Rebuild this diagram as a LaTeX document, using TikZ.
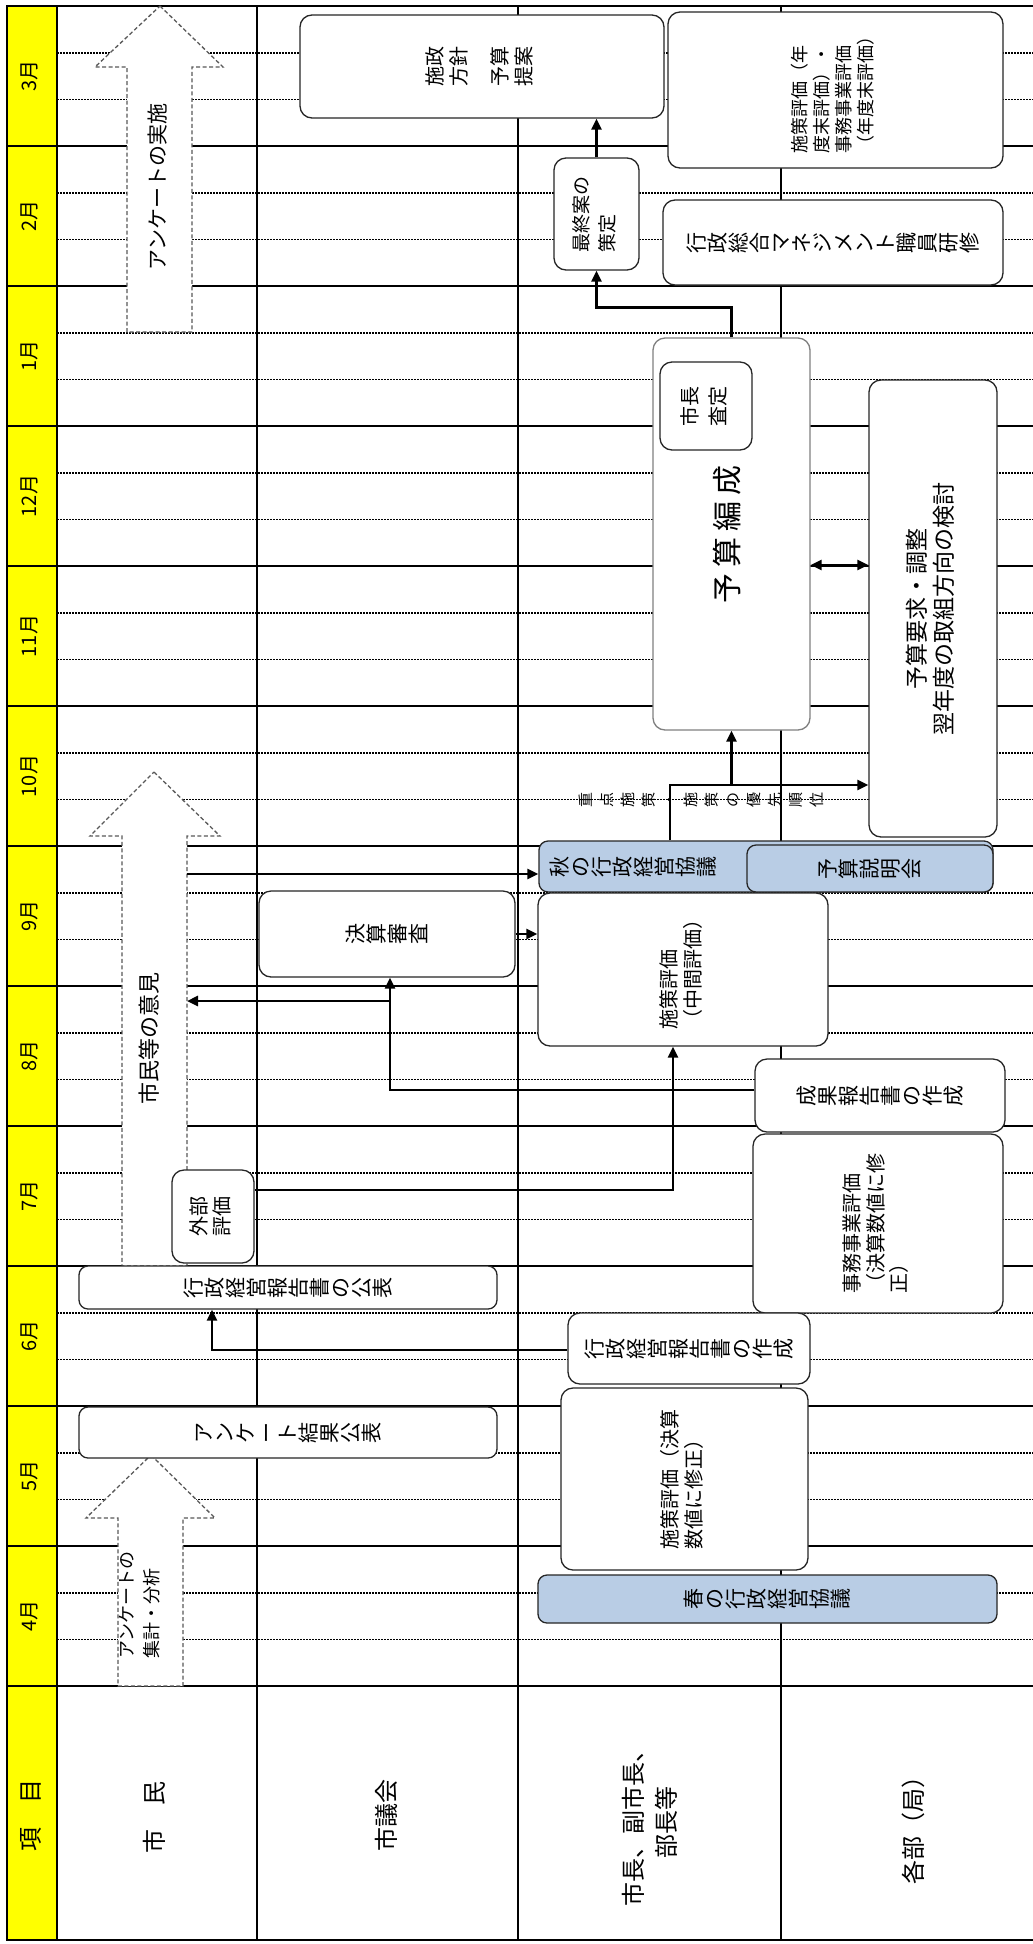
\documentclass[tikz,border=0pt]{standalone}
\usepackage{fontspec}
\setmainfont{Noto Sans CJK JP}
\usepackage{graphicx}
\usetikzlibrary{arrows.meta,positioning}

\definecolor{kiiro}{RGB}{255,255,0}
\definecolor{aoiro}{RGB}{185,205,229}

\newcommand{\fsz}[2]{\fontsize{#1}{#2}\selectfont}
\newcommand{\yoko}[2][c]{\rotatebox{90}{\begin{tabular}{@{}#1@{}}#2\end{tabular}}}
\newlength{\tatesep}
\newcommand{\tate}[1]{\tateloop#1\relax}
\def\tateloop#1{\ifx\relax#1\else\rotatebox{90}{\makebox[1em]{#1}\rule[-0.12em]{0pt}{1em}}\kern\tatesep\expandafter\tateloop\fi}

\begin{document}
\begin{tikzpicture}[x=1pt,y=-1pt,
  rule/.style={line width=1.6pt,black},
  dots/.style={line width=1.6pt,black,dash pattern=on 1.6pt off 1.4pt},
  box/.style={draw=black!85,line width=1.3pt,fill=white,rounded corners=12pt},
  bluebox/.style={box,fill=aoiro,rounded corners=9pt},
  qarrow/.style={draw=black!65,line width=1.3pt,dash pattern=on 4pt off 2.5pt,fill=white},
  flow/.style={line width=2.6pt,-{Triangle[length=11pt,width=10pt]}},
  both/.style={line width=2.6pt,{Triangle[length=11pt,width=10pt]}-{Triangle[length=11pt,width=10pt]}},
  month/.style={font=\fsz{20}{22}},
  head/.style={font=\fsz{24}{33}}]
\tikzstyle{every node}+=[inner sep=0pt,font=\fsz{21}{24}]
\useasboundingbox (0,0) rectangle (1033,1944);
\fill[white] (0,0) rectangle (1033,1944);
\fill[kiiro] (7,6) rectangle (57,1940);
\foreach \k in {0,...,11} {
  \draw[dots] (57,{52.7+140*\k}) -- (1033,{52.7+140*\k});
  \draw[dots] (57,{99.3+140*\k}) -- (1033,{99.3+140*\k});
}
\foreach \k in {1,...,12}
  \draw[rule] (7,{6+140*\k}) -- (1033,{6+140*\k});
\foreach \x in {57,257,518,781}
  \draw[rule] (\x,6) -- (\x,1940);
\draw[rule] (1033,6) -- (7,6) -- (7,1940) -- (1033,1940);

\foreach \m [count=\k from 0] in {3,2,1,12,11,10,9,8,7,6,5,4}
  \node[month] (m\m) at (32,{76+140*\k}) {\yoko{\m 月}};
\node[head] (koumoku) at (33,1815) {\yoko{項　目}};
\node[head] (shimin) at (157,1817) {\yoko{市　民}};
\node[head] (gikai) at (389,1815) {\yoko{市議会}};
\node[head] (shichou) at (652,1822) {\yoko{市長、副市長、\\部長等}};
\node[head] (kakubu) at (916,1824) {\yoko{各部（局）}};

\draw[qarrow] (160,6) -- (223,67) -- (192,67) -- (192,332) -- (127,332) -- (127,67) -- (95,67) -- cycle;
\draw[qarrow] (154,772) -- (220,836) -- (187,836) -- (187,1266) -- (122,1266) -- (122,836) -- (90,836) -- cycle;
\draw[qarrow] (151,1455) -- (215,1518) -- (183,1518) -- (183,1686) -- (118,1686) -- (118,1518) -- (86,1518) -- cycle;
\node (jisshi) at (160,187) {\yoko{アンケートの実施}};
\node[font=\fsz{22}{24}] (iken) at (152,1038) {\yoko{市民等の意見}};
\node[font=\fsz{18}{25}] (shukei) at (141,1605) {\yoko[l]{アンケートの\\集計・分析}};
\coordinate (iken1) at (187,874);
\coordinate (iken2) at (187,1001);

\node[box,minimum width=364pt,minimum height=103pt,font=\fsz{20}{24}] (seisaku) at (482,66.5) {\yoko{施政\\方針\\[17pt]予算\\提案}};
\node[box,minimum width=335pt,minimum height=156pt,font=\fsz{18}{22}] (nendo) at (835.5,90) {\yoko[l]{施策評価（年\\度末評価）・\\事務事業評価\\（年度末評価）}};
\node[box,minimum width=85pt,minimum height=112pt,font=\fsz{19}{26}] (fin) at (596.5,214) {\yoko[l]{最終案の\\策定}};
\node[box,minimum width=340pt,minimum height=85pt] (kensyu) at (833,242.5) {\tate{行政総合マネジメント職員研修}};
\node[box,draw=black!50,minimum width=157pt,minimum height=392pt,font=\fsz{30}{36}\addfontfeature{LetterSpace=20}] (yosan) at (731.5,534) {\yoko{予算編成}};
\node[box,minimum width=92pt,minimum height=88pt,font=\fsz{20}{28}] (chotei) at (706,406) {\yoko{市長\\査定}};
\node[box,minimum width=128pt,minimum height=457pt,font=\fsz{23}{24}] (youkyu) at (933,608.5) {\yoko{予算要求・調整\\翌年度の取組方向の検討}};
\node[bluebox,minimum width=454pt,minimum height=51pt] (aki) at (766,866.5) {\tate{秋の行政経営協議}\makebox[266pt]{}};
\node[bluebox,minimum width=246pt,minimum height=47pt] (setsumei) at (870,868.5) {\tate{予算説明会}};
\node[box,minimum width=256pt,minimum height=86pt] (kessan) at (387,934) {\tate{決算審査}};
\node[box,minimum width=290pt,minimum height=153pt,font=\fsz{20}{22}] (chukan) at (683,969.5) {\yoko[l]{施策評価\\（中間評価）}};
\node[box,minimum width=82pt,minimum height=93pt,font=\fsz{20}{23}] (gaibu) at (213,1216.5) {\yoko{外部\\評価}};
\node[box,minimum width=250pt,minimum height=73pt] (seika) at (880,1095.5) {\tate{成果報告書の作成}};
\node[box,minimum width=250pt,minimum height=179pt,font=\fsz{20}{22}] (jimu) at (878,1223.5) {\yoko[l]{事務事業評価\\（決算数値に修\\正）}};
\node[box,minimum width=418pt,minimum height=43pt,rounded corners=9pt] (koukai) at (288,1287.5) {\tate{行政経営報告書の公表}};
\node[box,minimum width=242pt,minimum height=71pt] (sakusei) at (689,1348.5) {\tate{行政経営報告書の作成}};
\node[box,minimum width=418pt,minimum height=51pt,rounded corners=9pt] (kekka) at (288,1432.5) {\tate{アンケート結果公表}};
\node[box,minimum width=247pt,minimum height=182pt,font=\fsz{20}{22}] (hyouka) at (684.5,1479) {\yoko[l]{施策評価（決算\\数値に修正）}};
\node[bluebox,minimum width=459pt,minimum height=48pt] (haru) at (767.5,1599) {\tate{春の行政経営協議}};

\setlength{\tatesep}{6pt}
\node[font=\fsz{15}{17}] (juten) at (704,800) {\tate{重点施策・施策の優先順位}};
\setlength{\tatesep}{0pt}

\coordinate (dbl) at (0,565);
\coordinate (r785) at (670,785);
\coordinate (g1) at (673,1190);
\coordinate (s1) at (390,1090);
\coordinate (s2) at (390,1001);
\coordinate (k1) at (212,1350);
\draw[flow] (fin.north) -- (fin.north |- seisaku.south);
\draw[flow] (yosan.north) -- ++(0,-30) -| (fin.south);
\draw[both] (yosan.east |- dbl) -- (youkyu.west |- dbl);
\draw[flow] (r785 |- aki.north) -- (r785) -- (r785 -| youkyu.west);
\draw[flow] (r785 -| yosan.south) -- (yosan.south);
\draw[flow] (iken1) -- (iken1 -| aki.west);
\draw[flow] (kessan.east) -- (kessan.east -| chukan.west);
\draw[flow] (gaibu.east |- g1) -- (g1) -- (g1 |- chukan.south);
\draw[flow] (seika.west |- s1) -- (s1) -- (s1 |- kessan.south);
\draw[flow] (s2) -- (iken2);
\draw[flow] (sakusei.west |- k1) -- (k1) -- (k1 |- koukai.south);
\end{tikzpicture}
\end{document}
